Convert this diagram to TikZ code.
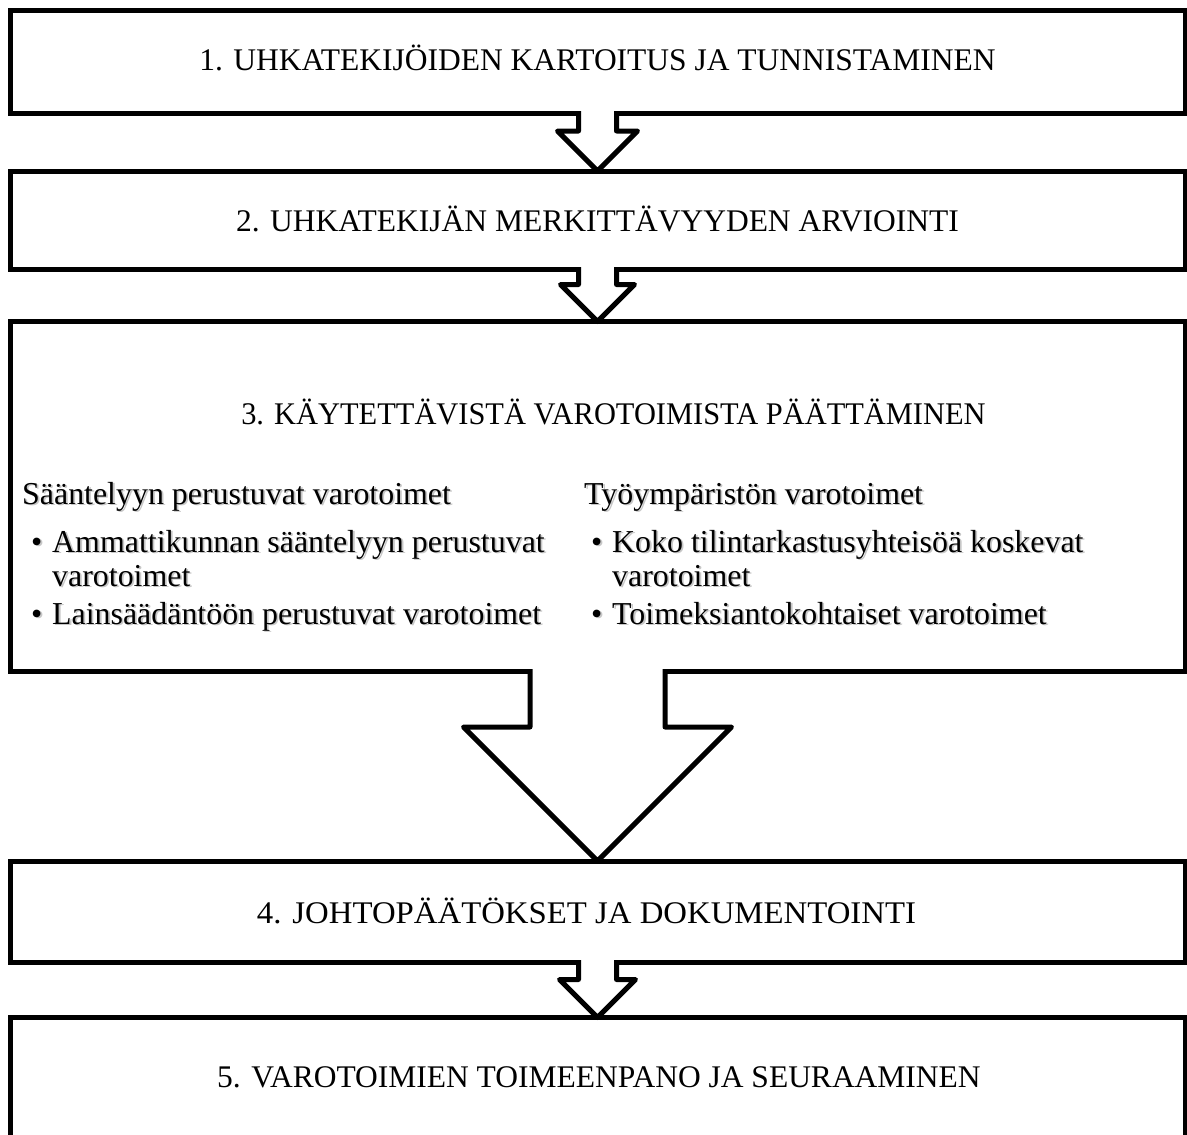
\documentclass[tikz,border=0pt]{standalone}
\usepackage{fontspec}
\setmainfont{Liberation Serif}
\usetikzlibrary{calc}
\tikzset{
  box/.style={draw=black, line width=5pt, fill=white, inner sep=0pt, outer sep=0pt, minimum width=1175pt},
  title/.style={font=\fontsize{31.5}{36}\selectfont, inner sep=0pt, anchor=base},
  head/.style={font=\fontsize{31.9}{34}\selectfont, inner sep=0pt, anchor=base west},
  item/.style={font=\fontsize{31.9}{34}\selectfont, inner sep=0pt, anchor=base west, align=left},
  arrowline/.style={draw=black, line width=5pt, line join=round},
}
\newcommand\shtext[1]{\makebox[0pt][l]{\hspace{1.8pt}\raisebox{-1.8pt}{\textcolor{black!22}{#1}}}#1}
\newcommand\bul{\makebox[21pt][l]{\shtext{•}}}
\newcommand\blockarrow[4]{%
  \path[fill=white] let \p1=(#1.south), \p2=(#2.north) in
    (\x1-#3, \y1+2.5pt) -- (\x1-#3, \y2+#4) -- (\x1-#4,\y2+#4) -- (\x1,\y2)
    -- (\x1+#4,\y2+#4) -- (\x1+#3,\y2+#4) -- (\x1+#3,\y1+2.5pt) -- cycle;
  \draw[arrowline] let \p1=(#1.south), \p2=(#2.north) in
    (\x1-#3, \y1+2.5pt) -- (\x1-#3, \y2+#4) -- (\x1-#4,\y2+#4) -- (\x1,\y2)
    -- (\x1+#4,\y2+#4) -- (\x1+#3,\y2+#4) -- (\x1+#3,\y1+2.5pt);
}
\begin{document}
\begin{tikzpicture}[x=1pt,y=-1pt]
\useasboundingbox (0,0) rectangle (1187,1135);
% boxes
\node[box, minimum height=103.5pt] (b1) at (597.5,61.75) {};
\node[box, minimum height=98.5pt] (b2) at (597.5,220.25) {};
\node[box, minimum height=350pt] (b3) at (597.5,496.5) {};
\node[box, minimum height=101.5pt] (b4) at (597.5,911.75) {};
\node[box, minimum height=140pt] (b5) at (597.5,1087.5) {};
% titles
\node[title] (t1) at (597.5,70) {1. UHKATEKIJÖIDEN KARTOITUS JA TUNNISTAMINEN};
\node[title] (t2) at (597.5,231) {2. UHKATEKIJÄN MERKITTÄVYYDEN ARVIOINTI};
\node[title] (t3) at (613.5,424) {\scalebox{0.966}[1]{3. KÄYTETTÄVISTÄ VAROTOIMISTA PÄÄTTÄMINEN}};
\node[title] (t4) at (586.5,923) {\scalebox{1.041}[1]{4. JOHTOPÄÄTÖKSET JA DOKUMENTOINTI}};
\node[title] (t5) at (599,1087) {5. VAROTOIMIEN TOIMEENPANO JA SEURAAMINEN};
% left column
\node[head] (lh) at (22,504) {\shtext{Sääntelyyn perustuvat varotoimet}};
\node[item] (l1) at (31,586) {\bul\shtext{Ammattikunnan sääntelyyn perustuvat}\\\hspace*{21pt}\shtext{varotoimet}};
\node[item] (l2) at (31,624) {\bul\shtext{Lainsäädäntöön perustuvat varotoimet}};
% right column
\node[head] (rh) at (584,504) {\shtext{Työympäristön varotoimet}};
\node[item] (r1) at (591,586) {\bul\shtext{Koko tilintarkastusyhteisöä koskevat}\\\hspace*{21pt}\shtext{varotoimet}};
\node[item] (r2) at (591,624) {\bul\shtext{Toimeksiantokohtaiset varotoimet}};
% arrows
\blockarrow{b1}{b2}{19pt}{40pt}
\blockarrow{b2}{b3}{19pt}{37pt}
\blockarrow{b3}{b4}{67.5pt}{134pt}
\blockarrow{b4}{b5}{19pt}{38pt}
\end{tikzpicture}
\end{document}
